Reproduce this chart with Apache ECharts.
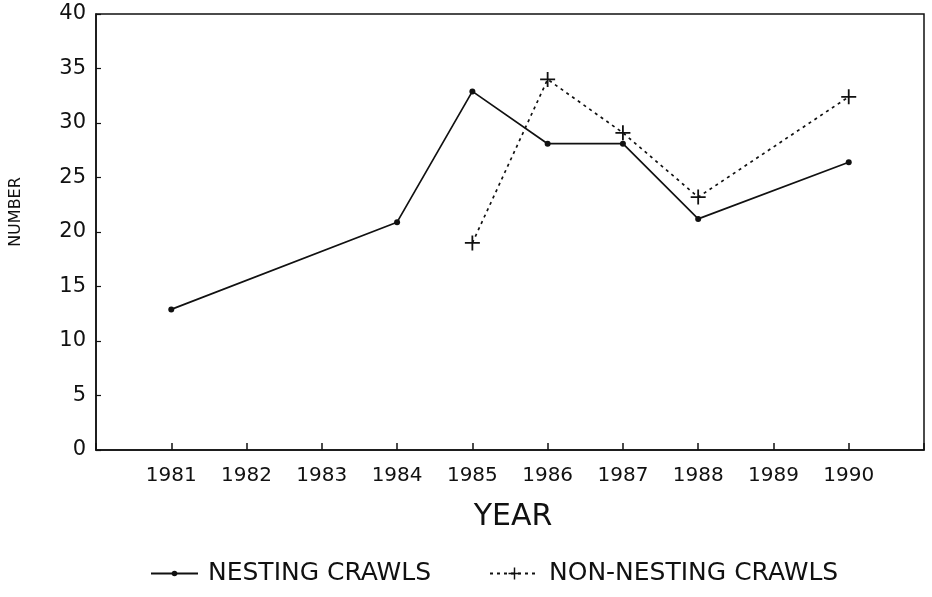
<!DOCTYPE html>
<html>
<head>
<meta charset="utf-8">
<script src="https://cdn.jsdelivr.net/npm/echarts@6/dist/echarts.min.js"></script>
<style>html,body{margin:0;padding:0;background:#fff}#c{width:932px;height:597px}</style>
</head>
<body>
<div id="c"></div>
<script>
const nestingYears = [1981, 1984, 1985, 1986, 1987, 1988, 1990];
const nestingValues = [12.9, 20.9, 32.9, 28.1, 28.1, 21.2, 26.4];
const nonNestingYears = [1985, 1986, 1987, 1988, 1990];
const nonNestingValues = [19.0, 34.0, 29.1, 23.2, 32.4];
const yearTicks = [1981, 1982, 1983, 1984, 1985, 1986, 1987, 1988, 1989, 1990];
const seriesNames = ['NESTING CRAWLS', 'NON-NESTING CRAWLS'];

const FONT = '"DejaVu Sans", "Liberation Sans", Arial, sans-serif';
const plus = 'path://M0,44H44V0H56V44H100V56H56V100H44V56H0Z';

const chart = echarts.init(document.getElementById('c'), null, {renderer: 'canvas'});
chart.setOption({
  animation: false,
  backgroundColor: '#fff',
  grid: {left: 96, right: 8, top: 14, bottom: 147, show: true, borderColor: '#111', borderWidth: 1.5, containLabel: false},
  xAxis: {
    type: 'value', min: 1980, max: 1991, interval: 1,
    name: 'YEAR', nameLocation: 'middle', nameGap: 52,
    nameTextStyle: {fontFamily: FONT, fontSize: 30, color: '#111', padding: [0, 0, 0, 6]},
    axisLine: {show: true, lineStyle: {color: '#111', width: 1.5}},
    axisTick: {show: true, inside: true, length: 7, lineStyle: {color: '#111', width: 1.5},
      interval: function (i, v) { return yearTicks.indexOf(Number(v)) >= 0; }},
    axisLabel: {fontFamily: FONT, fontSize: 20, color: '#111', margin: 16,
      formatter: function (v) { return yearTicks.indexOf(v) >= 0 ? String(v) : ''; }},
    splitLine: {show: false}
  },
  yAxis: {
    type: 'value', min: 0, max: 40, interval: 5,
    name: 'NUMBER', nameLocation: 'middle', nameGap: 72, nameRotate: 90,
    nameTextStyle: {fontFamily: FONT, fontSize: 16, color: '#111', padding: [0, 0, 0, 40]},
    axisLine: {show: true, lineStyle: {color: '#111', width: 1.5}},
    axisTick: {show: true, inside: true, length: 5, lineStyle: {color: '#111', width: 1.2}},
    axisLabel: {fontFamily: FONT, fontSize: 21, color: '#111', margin: 10},
    splitLine: {show: false}
  },
  legend: [
    {
      top: 561, left: 150, padding: 0, itemWidth: 47, itemHeight: 7,
      textStyle: {fontFamily: FONT, fontSize: 25, color: '#111', padding: [0, 0, 0, 5]},
      data: [seriesNames[0]]
    },
    {
      top: 561, left: 489, padding: 0, itemWidth: 49, itemHeight: 15,
      textStyle: {fontFamily: FONT, fontSize: 25, color: '#111', padding: [0, 0, 0, 5]},
      data: [seriesNames[1]]
    }
  ],
  series: [
    {
      name: seriesNames[0], type: 'line',
      data: nestingYears.map((y, i) => [y, nestingValues[i]]),
      symbol: 'circle', symbolSize: 6,
      itemStyle: {color: '#111'},
      lineStyle: {color: '#111', width: 1.7}
    },
    {
      name: seriesNames[1], type: 'line',
      data: nonNestingYears.map((y, i) => [y, nonNestingValues[i]]),
      symbol: plus, symbolSize: 15,
      itemStyle: {color: '#111'},
      lineStyle: {color: '#111', width: 1.7, type: [3, 4]}
    }
  ]
});
</script>
</body>
</html>
